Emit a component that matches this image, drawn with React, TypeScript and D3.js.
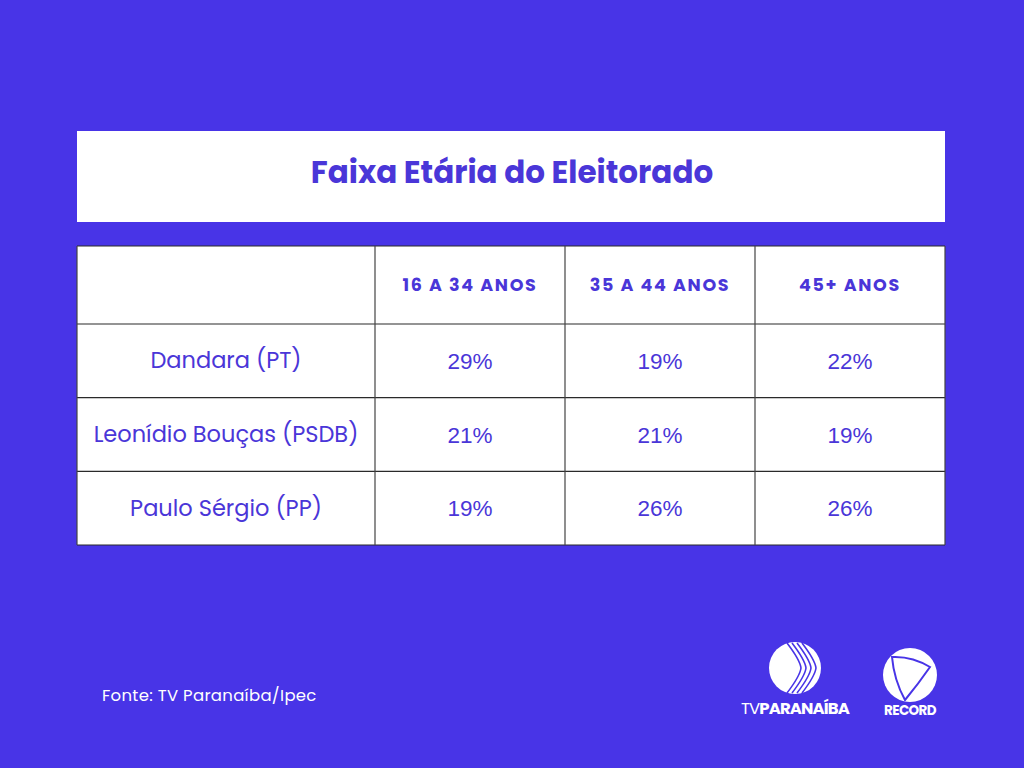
import React from "react";
import * as d3 from "d3";

const title = "Faixa Etária do Eleitorado";
const ageGroups = ["16 A 34 ANOS", "35 A 44 ANOS", "45+ ANOS"];
const candidates = ["Dandara (PT)", "Leonídio Bouças (PSDB)", "Paulo Sérgio (PP)"];
const values16to34 = [29, 21, 19];
const values35to44 = [19, 21, 26];
const values45plus = [22, 19, 26];
const source = "Fonte: TV Paranaíba/Ipec";

const BG = "#4834E7";
const INK = "#4A36D8";
const FONT = "Poppins, Inter, 'Noto Sans', sans-serif";

export default function App() {
  const W = 1024, H = 768;
  const left = 77, right = 945, firstColRight = 375;
  const top = 246, headerBottom = 324, bottom = 545;

  const series = [values16to34, values35to44, values45plus];
  const colScale = d3.scaleBand<string>().domain(ageGroups).range([firstColRight, right]).padding(0);
  const rowScale = d3.scaleBand<string>().domain(candidates).range([headerBottom, bottom]).padding(0);
  const pct = (v: number) => `${v}%`;

  const vLines = [left, ...ageGroups.map((g) => colScale(g)!), right];
  const hLines = [top, ...candidates.map((c) => rowScale(c)!), bottom];

  return (
    <svg width={W} height={H} style={{ position: "absolute", left: 0, top: 0, display: "block" }}>
      <rect x={0} y={0} width={W} height={H} fill={BG} />
      {/* title box */}
      <rect x={left} y={131} width={right - left} height={91} fill="#fff" />
      <text x={(left + right) / 2 + 1} y={183} textAnchor="middle" fill={INK}
        fontFamily={FONT} fontWeight={700} fontSize={31}>{title}</text>

      {/* table */}
      <rect x={left} y={top} width={right - left} height={bottom - top} fill="#fff" />
      {hLines.map((y, i) => (
        <line key={"h" + i} x1={left} x2={right} y1={y} y2={y} stroke="#2a2a2a" strokeWidth={1.2} />
      ))}
      {vLines.map((x, i) => (
        <line key={"v" + i} x1={x} x2={x} y1={top} y2={bottom} stroke="#444" strokeWidth={1.2} />
      ))}

      {ageGroups.map((g) => (
        <text key={g} x={colScale(g)! + colScale.bandwidth() / 2} y={291} textAnchor="middle"
          fill={INK} fontFamily={FONT} fontWeight={700} fontSize={17.5} letterSpacing={1.7}>{g}</text>
      ))}

      {candidates.map((c, ri) => {
        const cy = rowScale(c)! + rowScale.bandwidth() / 2;
        return (
          <g key={c}>
            <text x={(left + firstColRight) / 2} y={cy + 7.5} textAnchor="middle" fill={INK}
              fontFamily={FONT} fontSize={22.5}>{c}</text>
            {ageGroups.map((g, ci) => (
              <text key={g} x={colScale(g)! + colScale.bandwidth() / 2} y={cy + 8} textAnchor="middle"
                fill={INK} fontFamily="'Liberation Sans', Arial, sans-serif" fontSize={22.5}>{pct(series[ci][ri])}</text>
            ))}
          </g>
        );
      })}

      {/* footer */}
      <text x={102} y={701} fill="#fff" fontFamily={FONT} fontSize={16.5} letterSpacing={0.3}>{source}</text>

      {/* TV Paranaíba logo */}
      <g>
        <circle cx={795} cy={668} r={26} fill="#fff" />
        {[0, 5, 10, 15].map((o) => (
          <path key={o} d={`M${787 + o},${643} Q${800 + o},${660} ${801 + o},${668} Q${800 + o},${676} ${787 + o},${693}`}
            fill="none" stroke={BG} strokeWidth={1.6} />
        ))}
        <text x={795} y={714} textAnchor="middle" fill="#fff" fontFamily={FONT} fontSize={16.5}
          letterSpacing={-0.9}>
          <tspan fontWeight={400}>TV</tspan><tspan fontWeight={700}>PARANAÍBA</tspan>
        </text>
      </g>

      {/* Record logo */}
      <g>
        <circle cx={910} cy={675} r={27} fill="#fff" />
        <path d="M892,657 Q912,656 930,667 Q919,683 905,700 Q894,680 892,657 Z" fill="none" stroke={BG} strokeWidth={2} />
        <text x={910} y={715} textAnchor="middle" fill="#fff" fontFamily={FONT} fontSize={13.5}
          fontWeight={700} letterSpacing={-0.6}>RECORD</text>
      </g>
    </svg>
  );
}
